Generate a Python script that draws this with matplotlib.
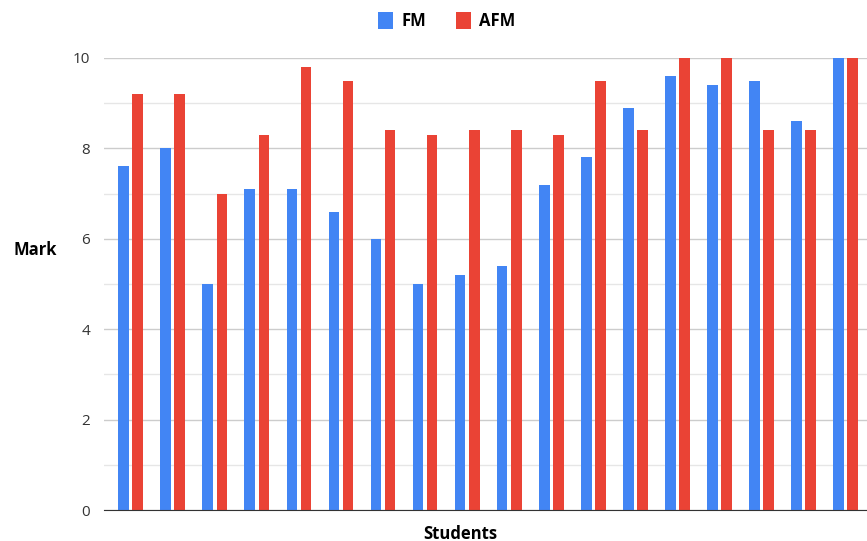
import numpy as np
import matplotlib.pyplot as plt
from matplotlib.ticker import MultipleLocator

# Datos
students = [f"S{i}" for i in range(1, 19)]
fm = [7.6, 8.0, 5.0, 7.1, 7.1, 6.6, 6.0, 5.0, 5.2, 5.4, 7.2, 7.8, 8.9, 9.6, 9.4, 9.5, 8.6, 10.0]
afm = [9.2, 9.2, 7.0, 8.3, 9.8, 9.5, 8.4, 8.3, 8.4, 8.4, 8.3, 9.5, 8.4, 10.0, 10.0, 8.4, 8.4, 10.0]

blue = "#4285F4"
red = "#EA4335"

plt.rcParams["font.family"] = ["Open Sans", "DejaVu Sans"]

fig = plt.figure(figsize=(8.67, 5.41), dpi=100)
ax = fig.add_axes([0.12, 0.057, 0.88, 0.836])

x = np.arange(len(students))
w = 0.26
ax.bar(x - 0.167, fm, width=w, color=blue, label="FM", zorder=3)
ax.bar(x + 0.167, afm, width=w, color=red, label="AFM", zorder=3)

ax.set_xlim(-0.64, 17.52)
ax.set_ylim(0, 10)
ax.yaxis.set_major_locator(MultipleLocator(2))
ax.yaxis.set_minor_locator(MultipleLocator(1))
ax.grid(axis="y", which="major", color="#cccccc", linewidth=1.0, zorder=0)
ax.grid(axis="y", which="minor", color="#e6e6e6", linewidth=1.0, zorder=0)
ax.set_xticks([])
ax.tick_params(axis="y", which="both", length=0, labelsize=11, colors="#333333", pad=10)
for s in ["top", "right", "left"]:
    ax.spines[s].set_visible(False)
ax.spines["bottom"].set_color("#333333")
ax.spines["bottom"].set_zorder(4)

ax.set_ylabel("Mark", fontsize=12, fontweight="bold", rotation=0, va="center", ha="center")
ax.yaxis.set_label_coords(-0.09, 0.575)
ax.set_xlabel("Students", fontsize=12, fontweight="bold", va="center")
ax.xaxis.set_label_coords(0.467, -0.052)

fig.legend(loc="upper center", bbox_to_anchor=(0.515, 1.005), ncol=2, frameon=False,
           prop={"weight": "bold", "size": 12},
           handlelength=0.9, handleheight=1.2, columnspacing=1.8, handletextpad=0.5)

plt.savefig("out.png")
